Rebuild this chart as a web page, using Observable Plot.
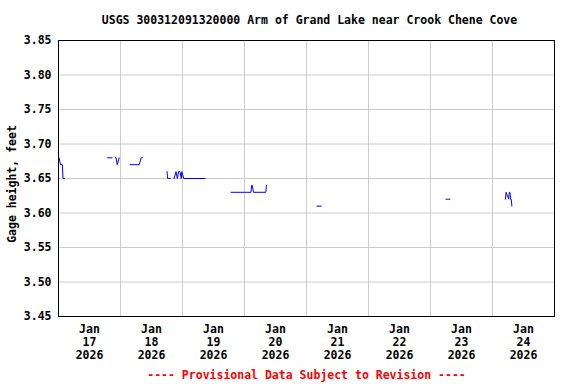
<!DOCTYPE html>
<html><head><meta charset="utf-8">
<script src="https://cdn.jsdelivr.net/npm/d3@7"></script>
<script src="https://cdn.jsdelivr.net/npm/@observablehq/plot@0.6"></script>
<style>body{margin:0;background:#fff}</style>
</head><body><div id="chart"></div>
<script>
const titleText = "USGS 300312091320000 Arm of Grand Lake near Crook Chene Cove";
const yLabel = "Gage height, feet";
const footerText = "---- Provisional Data Subject to Revision ----";
const yTicks = [3.45, 3.50, 3.55, 3.60, 3.65, 3.70, 3.75, 3.80, 3.85];
const dayStarts = ["2026-01-17","2026-01-18","2026-01-19","2026-01-20","2026-01-21","2026-01-22","2026-01-23","2026-01-24","2026-01-25"];

const times = [
  "2026-01-17T00:00","2026-01-17T00:15","2026-01-17T00:45","2026-01-17T01:30","2026-01-17T01:45","2026-01-17T02:15",
  "2026-01-17T19:00","2026-01-17T20:45",
  "2026-01-17T22:00","2026-01-17T22:15","2026-01-17T22:45","2026-01-17T23:30",
  "2026-01-18T03:45","2026-01-18T07:15","2026-01-18T08:00","2026-01-18T08:30",
  "2026-01-18T18:00","2026-01-18T18:15","2026-01-18T19:15",
  "2026-01-18T20:45","2026-01-18T21:30","2026-01-18T22:00","2026-01-18T22:30","2026-01-18T23:00","2026-01-18T23:30","2026-01-18T23:45","2026-01-19T00:30","2026-01-19T08:45",
  "2026-01-19T18:45","2026-01-20T02:30","2026-01-20T02:45","2026-01-20T03:00","2026-01-20T03:30","2026-01-20T08:15","2026-01-20T08:30",
  "2026-01-21T04:00","2026-01-21T05:45",
  "2026-01-23T06:00","2026-01-23T07:30",
  "2026-01-24T05:00","2026-01-24T05:15","2026-01-24T06:15","2026-01-24T06:30","2026-01-24T06:45","2026-01-24T07:00","2026-01-24T07:15","2026-01-24T07:30"
];
const gage = [
  3.68,3.68,3.67,3.67,3.65,3.65,
  3.68,3.68,
  3.68,3.68,3.67,3.68,
  3.67,3.67,3.68,3.68,
  3.66,3.65,3.65,
  3.65,3.66,3.65,3.66,3.66,3.65,3.66,3.65,3.65,
  3.63,3.63,3.64,3.64,3.63,3.63,3.64,
  3.61,3.61,
  3.62,3.62,
  3.62,3.63,3.62,3.63,3.63,3.62,3.62,3.61
];
const segment = [
  1,1,1,1,1,1,
  2,2,
  3,3,3,3,
  4,4,4,4,
  5,5,5,
  6,6,6,6,6,6,6,6,6,
  7,7,7,7,7,7,7,
  8,8,
  9,9,
  10,10,10,10,10,10,10,10
];

const data = times.map((t, i) => ({date: new Date(t + "Z"), value: gage[i], seg: segment[i]}));
const dayDates = dayStarts.map(d => new Date(d + "T00:00Z"));
const noonDates = dayStarts.slice(0, -1).map(d => new Date(d + "T12:00Z"));
const font = "'DejaVu Sans Mono', monospace";
const grid = "#cccccc";

const chart = Plot.plot({
  width: 576, height: 384,
  marginLeft: 58, marginRight: 22, marginTop: 40, marginBottom: 68,
  style: {fontFamily: font, fontSize: "11.5px", fontWeight: "bold", color: "black", background: "white"},
  x: {type: "utc", domain: [dayDates[0], dayDates[dayDates.length - 1]]},
  y: {domain: [3.45, 3.85]},
  marks: [
    Plot.gridY(yTicks, {stroke: grid, strokeOpacity: 1}),
    Plot.gridX(dayDates, {stroke: grid, strokeOpacity: 1}),
    Plot.frame({stroke: "black"}),
    Plot.axisY(yTicks, {tickSize: 0, tickPadding: 7, tickFormat: d => d.toFixed(2), label: null, fontSize: 11.5}),
    Plot.axisX(noonDates, {tickSize: 0, tickPadding: 7, tickFormat: d3.utcFormat("%b\n%d\n%Y"), label: null, lineHeight: 1.15, fontSize: 11.5}),
    Plot.line(data, {x: "date", y: "value", z: "seg", stroke: "blue", strokeWidth: 1}),
    Plot.text([titleText], {frameAnchor: "top", dy: -20, dx: 3, lineAnchor: "middle", fontSize: 11.5, fontWeight: "bold"}),
    Plot.text([yLabel], {frameAnchor: "left", rotate: -90, dx: -46.5, dy: 5.5, textAnchor: "middle", lineAnchor: "middle", fontSize: 11.5, fontWeight: "bold"}),
    Plot.text([footerText], {frameAnchor: "bottom", dy: 59, lineAnchor: "middle", fill: "red", fontSize: 11.5, fontWeight: "bold"})
  ]
});
document.getElementById("chart").appendChild(chart);
</script>
</body></html>
